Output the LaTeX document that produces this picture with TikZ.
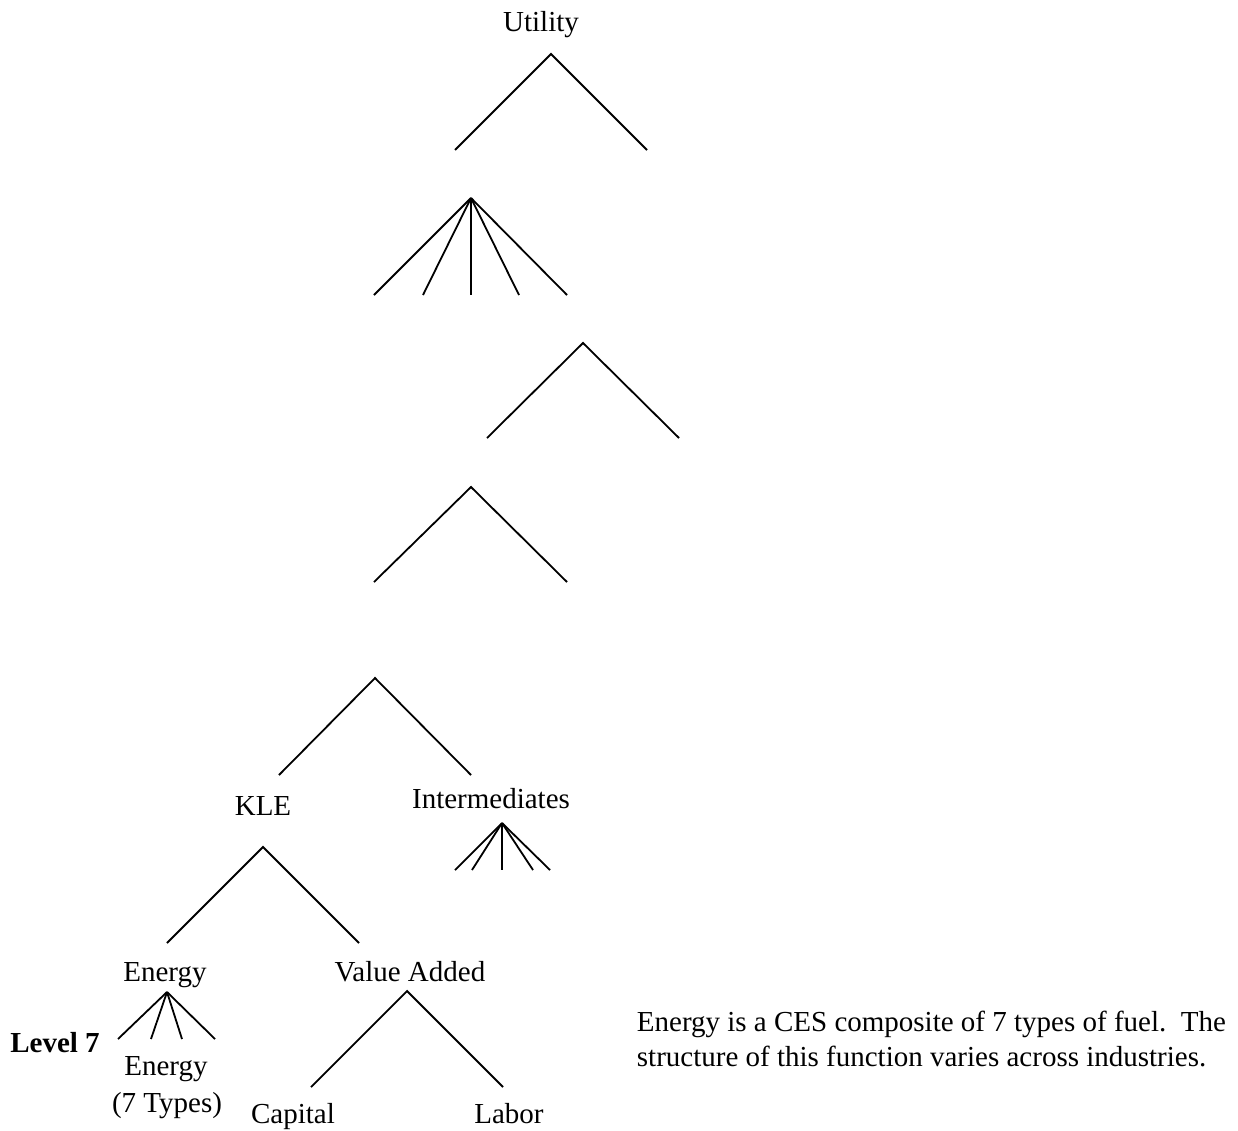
\documentclass[tikz,border=0pt]{standalone}
\usepackage{fontspec}
\setmainfont{Liberation Serif}

\begin{document}
\begin{tikzpicture}[x=1pt, y=-1pt, line width=1.8pt,
    every node/.style={font=\fontsize{29}{35}\selectfont, inner sep=0pt, anchor=base}]
\useasboundingbox (0,0) rectangle (1238,1130);

% labels
\node (util) at (541,31) {Utility};
\node (kle) at (263,815) {KLE};
\node (inter) at (491,808) {Intermediates};
\node (energy) at (165,981) {Energy};
\node (va) at (410,981) {Value Added};
\node (fuels) at (166,1075) {Energy};
\node (types) at (167,1112) {(7 Types)};
\node (capital) at (293,1123) {Capital};
\node (labor) at (509,1123) {Labor};
\node (level) at (55,1052) {\textbf{Level 7}};
\node[anchor=base west] (note1) at (636,1031) {Energy is a CES composite of 7 types of fuel.\ \ The};
\node[anchor=base west] (note2) at (636,1066) {structure of this function varies across industries.};

% two-way nests
\coordinate (t1) at (551,54);  \coordinate (t1l) at (455,150); \coordinate (t1r) at (647,150);
\coordinate (t3) at (583,343); \coordinate (t3l) at (487,438); \coordinate (t3r) at (679,438);
\coordinate (t4) at (471,487); \coordinate (t4l) at (374,582); \coordinate (t4r) at (567,582);
\coordinate (t5) at (375,678); \coordinate (t5l) at (279,775); \coordinate (t5r) at (471,775);
\coordinate (tk) at (263,847); \coordinate (tkl) at (167,943); \coordinate (tkr) at (359,943);
\coordinate (tv) at (407,991); \coordinate (tvl) at (311,1087); \coordinate (tvr) at (503,1087);
\foreach \t in {t1,t3,t4,t5,tk,tv}
    \draw (\t l) -- (\t) -- (\t r);

% fans
\coordinate (f2) at (471,198);
\foreach \x [count=\i] in {374,423,471,519,567} {
    \coordinate (f2\i) at (\x,295);
    \draw (f2) -- (f2\i);
}
\coordinate (fi) at (502,823);
\foreach \x [count=\i] in {455,472,502,533,550} {
    \coordinate (fi\i) at (\x,870);
    \draw (fi) -- (fi\i);
}
\coordinate (fe) at (167,992);
\foreach \x [count=\i] in {118,151,182,215} {
    \coordinate (fe\i) at (\x,1039);
    \draw (fe) -- (fe\i);
}
\end{tikzpicture}
\end{document}
